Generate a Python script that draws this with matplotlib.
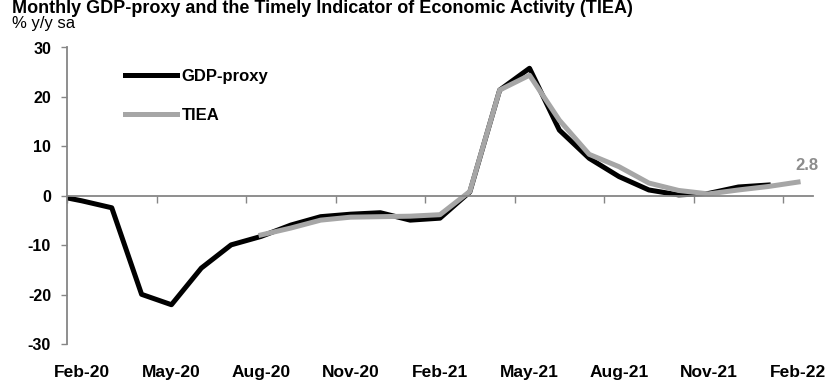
import matplotlib
matplotlib.use('Agg')
import matplotlib.pyplot as plt
import numpy as np

matplotlib.rcParams['font.family'] = ['Liberation Sans', 'DejaVu Sans']
matplotlib.rcParams['axes.unicode_minus'] = False

# monthly data, Jan-20 .. Feb-22 (Jan-20 sits left of the axis and is clipped)
months = ['Jan-20', 'Feb-20', 'Mar-20', 'Apr-20', 'May-20', 'Jun-20', 'Jul-20', 'Aug-20',
          'Sep-20', 'Oct-20', 'Nov-20', 'Dec-20', 'Jan-21', 'Feb-21', 'Mar-21', 'Apr-21',
          'May-21', 'Jun-21', 'Jul-21', 'Aug-21', 'Sep-21', 'Oct-21', 'Nov-21', 'Dec-21',
          'Jan-22', 'Feb-22']
gdp_proxy = [0.2, -1.0, -2.4, -19.9, -22.0, -14.6, -9.9, -8.2,
             -5.9, -4.2, -3.7, -3.4, -4.9, -4.5, 0.8, 21.4,
             25.8, 13.3, 7.6, 3.9, 1.2, 0.2, 0.5, 1.8,
             2.2, np.nan]
tiea = [np.nan, np.nan, np.nan, np.nan, np.nan, np.nan, np.nan, -7.9,
        -6.5, -4.9, -4.3, -4.2, -4.1, -3.8, 0.9, 21.4,
        24.4, 15.3, 8.4, 5.9, 2.6, 1.1, 0.4, 1.2,
        1.9, 2.8]
yticks = [-30, -20, -10, 0, 10, 20, 30]

x = np.arange(len(months))
grey_axis = '#868686'

fig = plt.figure(figsize=(8.28, 3.84), dpi=100)
ax = fig.add_axes([67/828, 1 - 344.3/384, (813 - 67)/828, (344.3 - 47.5)/384])

ax.plot(x, gdp_proxy, color='black', lw=3.6, label='GDP-proxy', solid_joinstyle='round')
ax.plot(x, tiea, color='#A6A6A6', lw=3.6, label='TIEA', solid_joinstyle='round')

ax.set_xlim(0.5, len(months) - 0.5)
ax.set_ylim(-30, 30)

# spines: y axis on the left, x axis through zero
for s in ['top', 'right']:
    ax.spines[s].set_visible(False)
ax.spines['left'].set_color(grey_axis)
ax.spines['left'].set_linewidth(1.3)
ax.spines['bottom'].set_position(('data', 0))
ax.spines['bottom'].set_color(grey_axis)
ax.spines['bottom'].set_linewidth(1.3)

ax.set_yticks(yticks)
ax.set_yticklabels([str(v) for v in yticks], fontweight='bold', fontsize=11.5)
ax.tick_params(axis='y', direction='out', length=4.5, width=1, color=grey_axis, pad=7)

ax.set_xticks(np.arange(0.5, len(months), 3))
ax.set_xticklabels([])
ax.tick_params(axis='x', direction='out', length=5, width=1, color=grey_axis)

# month labels along the bottom of the plot area
sec = ax.secondary_xaxis('bottom')
lab_pos = np.arange(1, len(months), 3)
sec.set_xticks(lab_pos)
sec.set_xticklabels([months[i] for i in lab_pos], fontweight='bold', fontsize=12.5)
sec.tick_params(length=0, pad=15)
sec.spines['bottom'].set_visible(False)

ax.legend(loc='upper left', bbox_to_anchor=(125/828, 1 - 69/384),
          bbox_transform=fig.transFigure, frameon=False, borderpad=0,
          borderaxespad=0, handlelength=3.1, handletextpad=0.3,
          labelspacing=1.45, prop={'weight': 'bold', 'size': 12})

last = len(months) - 1
ax.annotate(f'{tiea[last]:.1f}', xy=(x[last], tiea[last]), xytext=(-2, 8.5),
            textcoords='offset points', ha='left', va='baseline',
            color='#8C8C8C', fontweight='bold', fontsize=12)

fig.text(12/828, 1 - 13/384,
         'Monthly GDP-proxy and the Timely Indicator of Economic Activity (TIEA)',
         fontweight='bold', fontsize=13, ha='left', va='baseline')
fig.text(12/828, 1 - 28/384, '% y/y sa', fontsize=12, ha='left', va='baseline')

fig.savefig('out.png', dpi=100)
